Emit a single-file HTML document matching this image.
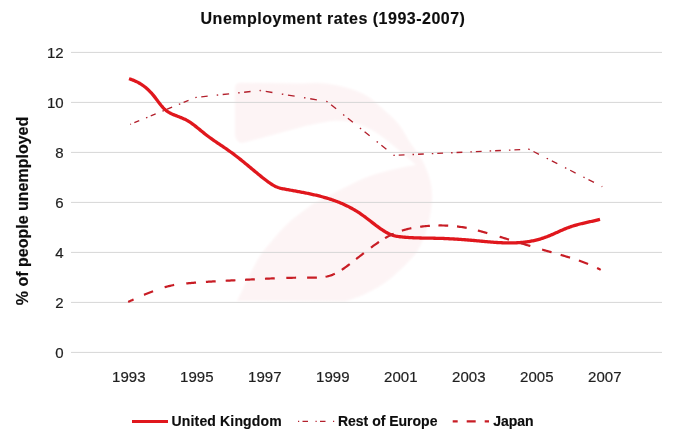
<!DOCTYPE html>
<html><head><meta charset="utf-8"><style>
html,body{margin:0;padding:0;background:#fff;width:681px;height:441px;overflow:hidden}
svg{display:block;will-change:transform}
text{font-family:"Liberation Sans", sans-serif;}
</style></head><body>
<svg width="681" height="441" viewBox="0 0 681 441">
<rect width="681" height="441" fill="#fff"/>
<defs><filter id="bl" x="-10%" y="-10%" width="120%" height="120%"><feGaussianBlur stdDeviation="0.9"/></filter></defs>
<path fill="#fdf4f5" filter="url(#bl)" d="M240,82.7 L300,83.5 C308.67,83.53 316.69,82.33 326.00,83.60 C337.23,85.13 352.33,88.57 362.50,93.60 C371.09,97.85 377.65,104.52 384.00,110.00 C389.55,114.79 394.49,119.03 398.80,124.40 C403.18,129.85 406.13,136.56 410.00,142.50 C413.86,148.43 418.67,153.78 422.00,160.00 C425.35,166.27 428.35,173.40 430.00,180.00 C431.52,186.05 432.12,191.40 432.00,198.00 C431.85,206.10 430.35,216.31 428.00,225.00 C425.67,233.64 422.60,242.59 418.00,250.00 C413.53,257.21 406.67,263.42 401.00,269.00 C396.00,273.92 391.64,278.00 386.00,282.00 C379.78,286.41 372.05,290.69 365.00,294.00 C358.38,297.11 351.67,299.00 345.00,301.50 L237,301 C244.50,286.23 252.85,267.18 259.50,256.70 C263.51,250.37 266.28,247.51 270.60,242.40 C275.99,236.03 282.68,228.10 289.70,221.70 C296.94,215.10 305.57,209.57 313.50,203.50 C323.00,198.67 332.50,193.62 342.00,189.00 C351.33,184.46 360.35,179.50 370.00,176.00 C379.68,172.49 391.53,169.92 400.00,168.00 C406.13,166.61 410.67,166.00 416.00,165.00 C410.27,160.00 403.65,154.11 398.80,150.00 C395.31,147.04 393.31,145.25 389.70,142.50 C384.75,138.73 377.85,133.17 371.60,129.80 C365.72,126.63 359.56,124.09 353.40,122.60 C347.46,121.16 341.94,120.59 335.30,120.80 C327.12,121.06 317.10,123.80 308.00,125.30 L244,142.6 C238.5,144 235,139 235,134 L235,88 C235,85 237,82.7 240,82.7 Z"/>
<g stroke="#d6d6d6" stroke-width="1">
<line x1="71" y1="52.4" x2="662" y2="52.4" />
<line x1="71" y1="102.4" x2="662" y2="102.4" />
<line x1="71" y1="152.4" x2="662" y2="152.4" />
<line x1="71" y1="202.4" x2="662" y2="202.4" />
<line x1="71" y1="252.4" x2="662" y2="252.4" />
<line x1="71" y1="302.4" x2="662" y2="302.4" />
<line x1="71" y1="352.4" x2="662" y2="352.4" />
</g>
<g font-size="15" fill="#1f1f1f" stroke="#1f1f1f" stroke-width="0.2" text-anchor="end">
<text x="63.6" y="58.2">12</text>
<text x="63.6" y="108.2">10</text>
<text x="63.6" y="158.2">8</text>
<text x="63.6" y="208.2">6</text>
<text x="63.6" y="258.2">4</text>
<text x="63.6" y="308.2">2</text>
<text x="63.6" y="358.2">0</text>
</g>
<g font-size="15" fill="#1f1f1f" stroke="#1f1f1f" stroke-width="0.2" text-anchor="middle">
<text x="128.8" y="382.2">1993</text>
<text x="196.8" y="382.2">1995</text>
<text x="264.8" y="382.2">1997</text>
<text x="332.8" y="382.2">1999</text>
<text x="400.8" y="382.2">2001</text>
<text x="468.8" y="382.2">2003</text>
<text x="536.8" y="382.2">2005</text>
<text x="604.8" y="382.2">2007</text>
</g>
<text x="333" y="23.8" font-size="16" font-weight="bold" fill="#0d0d0d" stroke="#0d0d0d" stroke-width="0.15" text-anchor="middle" letter-spacing="0.5">Unemployment rates (1993-2007)</text>
<text transform="translate(28.4,211) rotate(-90)" font-size="16" font-weight="bold" fill="#0d0d0d" stroke="#0d0d0d" stroke-width="0.15" text-anchor="middle">% of people unemployed</text>
<path d="M129.0,78.71 L130.0,79.03 L131.0,79.37 L132.0,79.72 L133.0,80.10 L134.0,80.51 L135.0,80.94 L136.0,81.40 L137.0,81.88 L138.0,82.40 L139.0,82.95 L140.0,83.53 L141.0,84.15 L142.0,84.80 L143.0,85.49 L144.0,86.23 L145.0,87.00 L146.0,87.82 L147.0,88.68 L148.0,89.59 L149.0,90.55 L150.0,91.56 L151.0,92.61 L152.0,93.72 L153.0,94.89 L154.0,96.11 L155.0,97.39 L156.0,98.70 L157.0,100.04 L158.0,101.38 L159.0,102.72 L160.0,104.02 L161.0,105.28 L162.0,106.47 L163.0,107.58 L164.0,108.60 L165.0,109.52 L166.0,110.36 L167.0,111.12 L168.0,111.81 L169.0,112.44 L170.0,113.01 L171.0,113.53 L172.0,114.01 L173.0,114.45 L174.0,114.87 L175.0,115.27 L176.0,115.66 L177.0,116.04 L178.0,116.42 L179.0,116.81 L180.0,117.20 L181.0,117.59 L182.0,118.00 L183.0,118.43 L184.0,118.88 L185.0,119.35 L186.0,119.85 L187.0,120.39 L188.0,120.95 L189.0,121.56 L190.0,122.20 L191.0,122.87 L192.0,123.57 L193.0,124.30 L194.0,125.05 L195.0,125.82 L196.0,126.61 L197.0,127.42 L198.0,128.23 L199.0,129.05 L200.0,129.88 L201.0,130.70 L202.0,131.52 L203.0,132.34 L204.0,133.15 L205.0,133.95 L206.0,134.73 L207.0,135.50 L208.0,136.25 L209.0,137.00 L210.0,137.73 L211.0,138.45 L212.0,139.16 L213.0,139.86 L214.0,140.56 L215.0,141.25 L216.0,141.93 L217.0,142.61 L218.0,143.29 L219.0,143.97 L220.0,144.64 L221.0,145.31 L222.0,145.98 L223.0,146.66 L224.0,147.33 L225.0,148.01 L226.0,148.70 L227.0,149.39 L228.0,150.08 L229.0,150.79 L230.0,151.50 L231.0,152.22 L232.0,152.95 L233.0,153.69 L234.0,154.44 L235.0,155.20 L236.0,155.97 L237.0,156.74 L238.0,157.52 L239.0,158.31 L240.0,159.11 L241.0,159.91 L242.0,160.71 L243.0,161.52 L244.0,162.34 L245.0,163.16 L246.0,163.98 L247.0,164.80 L248.0,165.63 L249.0,166.46 L250.0,167.29 L251.0,168.12 L252.0,168.95 L253.0,169.78 L254.0,170.61 L255.0,171.44 L256.0,172.26 L257.0,173.09 L258.0,173.91 L259.0,174.73 L260.0,175.54 L261.0,176.35 L262.0,177.16 L263.0,177.96 L264.0,178.75 L265.0,179.53 L266.0,180.30 L267.0,181.06 L268.0,181.80 L269.0,182.51 L270.0,183.20 L271.0,183.86 L272.0,184.49 L273.0,185.09 L274.0,185.65 L275.0,186.17 L276.0,186.65 L277.0,187.08 L278.0,187.46 L279.0,187.79 L280.0,188.09 L281.0,188.35 L282.0,188.58 L283.0,188.79 L284.0,188.99 L285.0,189.17 L286.0,189.35 L287.0,189.53 L288.0,189.71 L289.0,189.89 L290.0,190.07 L291.0,190.25 L292.0,190.43 L293.0,190.61 L294.0,190.79 L295.0,190.97 L296.0,191.15 L297.0,191.33 L298.0,191.52 L299.0,191.70 L300.0,191.89 L301.0,192.08 L302.0,192.27 L303.0,192.46 L304.0,192.66 L305.0,192.85 L306.0,193.05 L307.0,193.26 L308.0,193.46 L309.0,193.67 L310.0,193.88 L311.0,194.10 L312.0,194.32 L313.0,194.54 L314.0,194.77 L315.0,195.00 L316.0,195.23 L317.0,195.47 L318.0,195.72 L319.0,195.97 L320.0,196.22 L321.0,196.48 L322.0,196.75 L323.0,197.02 L324.0,197.30 L325.0,197.58 L326.0,197.87 L327.0,198.17 L328.0,198.47 L329.0,198.78 L330.0,199.10 L331.0,199.42 L332.0,199.76 L333.0,200.10 L334.0,200.45 L335.0,200.81 L336.0,201.18 L337.0,201.55 L338.0,201.94 L339.0,202.34 L340.0,202.74 L341.0,203.16 L342.0,203.59 L343.0,204.03 L344.0,204.48 L345.0,204.94 L346.0,205.41 L347.0,205.89 L348.0,206.39 L349.0,206.90 L350.0,207.42 L351.0,207.96 L352.0,208.50 L353.0,209.07 L354.0,209.64 L355.0,210.23 L356.0,210.83 L357.0,211.45 L358.0,212.09 L359.0,212.73 L360.0,213.40 L361.0,214.08 L362.0,214.77 L363.0,215.48 L364.0,216.21 L365.0,216.95 L366.0,217.70 L367.0,218.46 L368.0,219.23 L369.0,220.01 L370.0,220.79 L371.0,221.57 L372.0,222.35 L373.0,223.13 L374.0,223.91 L375.0,224.67 L376.0,225.44 L377.0,226.19 L378.0,226.93 L379.0,227.66 L380.0,228.37 L381.0,229.06 L382.0,229.73 L383.0,230.39 L384.0,231.02 L385.0,231.62 L386.0,232.20 L387.0,232.74 L388.0,233.26 L389.0,233.74 L390.0,234.19 L391.0,234.61 L392.0,234.98 L393.0,235.31 L394.0,235.60 L395.0,235.86 L396.0,236.09 L397.0,236.28 L398.0,236.46 L399.0,236.61 L400.0,236.74 L401.0,236.85 L402.0,236.96 L403.0,237.06 L404.0,237.15 L405.0,237.24 L406.0,237.32 L407.0,237.39 L408.0,237.46 L409.0,237.53 L410.0,237.59 L411.0,237.64 L412.0,237.69 L413.0,237.74 L414.0,237.79 L415.0,237.83 L416.0,237.86 L417.0,237.90 L418.0,237.93 L419.0,237.96 L420.0,237.99 L421.0,238.01 L422.0,238.03 L423.0,238.05 L424.0,238.07 L425.0,238.09 L426.0,238.11 L427.0,238.13 L428.0,238.14 L429.0,238.16 L430.0,238.17 L431.0,238.19 L432.0,238.20 L433.0,238.22 L434.0,238.24 L435.0,238.26 L436.0,238.28 L437.0,238.30 L438.0,238.32 L439.0,238.35 L440.0,238.37 L441.0,238.40 L442.0,238.44 L443.0,238.47 L444.0,238.51 L445.0,238.55 L446.0,238.59 L447.0,238.63 L448.0,238.68 L449.0,238.73 L450.0,238.78 L451.0,238.83 L452.0,238.88 L453.0,238.94 L454.0,239.00 L455.0,239.06 L456.0,239.12 L457.0,239.18 L458.0,239.25 L459.0,239.31 L460.0,239.38 L461.0,239.45 L462.0,239.53 L463.0,239.60 L464.0,239.67 L465.0,239.75 L466.0,239.83 L467.0,239.91 L468.0,239.99 L469.0,240.07 L470.0,240.16 L471.0,240.24 L472.0,240.33 L473.0,240.41 L474.0,240.50 L475.0,240.59 L476.0,240.68 L477.0,240.77 L478.0,240.86 L479.0,240.96 L480.0,241.05 L481.0,241.14 L482.0,241.24 L483.0,241.33 L484.0,241.42 L485.0,241.52 L486.0,241.61 L487.0,241.70 L488.0,241.79 L489.0,241.87 L490.0,241.96 L491.0,242.04 L492.0,242.12 L493.0,242.20 L494.0,242.28 L495.0,242.35 L496.0,242.42 L497.0,242.48 L498.0,242.55 L499.0,242.61 L500.0,242.66 L501.0,242.71 L502.0,242.76 L503.0,242.80 L504.0,242.84 L505.0,242.87 L506.0,242.90 L507.0,242.92 L508.0,242.93 L509.0,242.94 L510.0,242.94 L511.0,242.94 L512.0,242.93 L513.0,242.91 L514.0,242.89 L515.0,242.86 L516.0,242.82 L517.0,242.77 L518.0,242.72 L519.0,242.65 L520.0,242.58 L521.0,242.50 L522.0,242.41 L523.0,242.31 L524.0,242.21 L525.0,242.09 L526.0,241.96 L527.0,241.83 L528.0,241.68 L529.0,241.52 L530.0,241.36 L531.0,241.18 L532.0,240.99 L533.0,240.79 L534.0,240.57 L535.0,240.35 L536.0,240.11 L537.0,239.87 L538.0,239.61 L539.0,239.33 L540.0,239.05 L541.0,238.75 L542.0,238.43 L543.0,238.11 L544.0,237.77 L545.0,237.42 L546.0,237.05 L547.0,236.67 L548.0,236.27 L549.0,235.87 L550.0,235.46 L551.0,235.04 L552.0,234.61 L553.0,234.17 L554.0,233.73 L555.0,233.29 L556.0,232.84 L557.0,232.39 L558.0,231.95 L559.0,231.50 L560.0,231.05 L561.0,230.61 L562.0,230.17 L563.0,229.74 L564.0,229.31 L565.0,228.90 L566.0,228.49 L567.0,228.09 L568.0,227.70 L569.0,227.33 L570.0,226.96 L571.0,226.62 L572.0,226.28 L573.0,225.96 L574.0,225.66 L575.0,225.36 L576.0,225.07 L577.0,224.80 L578.0,224.53 L579.0,224.27 L580.0,224.02 L581.0,223.77 L582.0,223.53 L583.0,223.30 L584.0,223.07 L585.0,222.84 L586.0,222.61 L587.0,222.39 L588.0,222.17 L589.0,221.94 L590.0,221.72 L591.0,221.50 L592.0,221.27 L593.0,221.04 L594.0,220.80 L595.0,220.56 L596.0,220.32 L597.0,220.07 L598.0,219.81 L599.0,219.54 L600.0,219.27" fill="none" stroke="#e0171d" stroke-width="3.3" stroke-linejoin="round"/>
<path d="M130.3,124.4 L196,97.4" fill="none" stroke="#b3202c" stroke-width="1.35" stroke-dasharray="1.5 3.60 5.33 7.33" stroke-dashoffset="0.75"/>
<path d="M196,97.4 L260.3,90.5" fill="none" stroke="#b3202c" stroke-width="1.35" stroke-dasharray="1.5 4.53 6.47 9.06" stroke-dashoffset="0.75"/>
<path d="M260.3,90.5 L327,101.5" fill="none" stroke="#b3202c" stroke-width="1.35" stroke-dasharray="1.5 4.77 6.76 9.50" stroke-dashoffset="0.75"/>
<path d="M327,101.5 L394,155.4" fill="none" stroke="#b3202c" stroke-width="1.35" stroke-dasharray="1.5 4.52 6.45 9.03" stroke-dashoffset="0.75"/>
<path d="M394,155.4 L529,149.2" fill="none" stroke="#b3202c" stroke-width="1.35" stroke-dasharray="1.5 3.98 5.79 8.03" stroke-dashoffset="0.75"/>
<path d="M529,149.2 L602.3,186.7" fill="none" stroke="#b3202c" stroke-width="1.35" stroke-dasharray="1.5 4.29 6.18 8.62" stroke-dashoffset="0.75"/>
<path d="M128.20,301.91 L128.97,301.56 L129.74,301.22 L130.51,300.87 L131.29,300.52 L132.06,300.17 L132.83,299.83 L133.60,299.48 M144.01,294.88 L145.30,294.33 L146.59,293.78 L147.88,293.24 L149.18,292.71 L150.48,292.19 L151.78,291.67 L153.08,291.17 M164.63,287.23 L165.98,286.85 L167.33,286.48 L168.69,286.13 L170.05,285.81 L171.42,285.50 L172.79,285.22 L174.16,284.95 M186.27,283.43 L187.66,283.30 L189.06,283.18 L190.45,283.06 L191.85,282.94 L193.24,282.82 L194.64,282.71 L196.03,282.60 M205.91,281.89 L207.31,281.80 L208.70,281.71 L210.10,281.63 L211.50,281.54 L212.90,281.46 L214.29,281.37 L215.69,281.29 M225.66,280.75 L227.05,280.68 L228.45,280.61 L229.85,280.54 L231.25,280.47 L232.65,280.40 L234.05,280.33 L235.44,280.26 M245.06,279.78 L246.45,279.71 L247.85,279.64 L249.25,279.57 L250.65,279.49 L252.05,279.42 L253.45,279.35 L254.84,279.28 M264.96,278.77 L266.35,278.70 L267.75,278.64 L269.15,278.57 L270.55,278.51 L271.95,278.45 L273.35,278.39 L274.75,278.33 M286.30,277.92 L287.70,277.88 L289.10,277.85 L290.50,277.81 L291.90,277.78 L293.30,277.76 L294.70,277.73 L296.10,277.71 M307.10,277.68 L308.50,277.70 L309.90,277.71 L311.30,277.72 L312.70,277.72 L314.10,277.71 L315.50,277.69 L316.90,277.65 M325.53,276.74 L326.90,276.46 L328.27,276.13 L329.61,275.76 L330.95,275.34 L332.27,274.86 L333.57,274.34 L334.85,273.77 M341.82,269.79 L342.98,269.01 L344.13,268.22 L345.27,267.40 L346.40,266.58 L347.53,265.75 L348.65,264.91 L349.76,264.06 M356.15,259.10 L357.25,258.23 L358.35,257.37 L359.45,256.50 L360.55,255.64 L361.65,254.77 L362.75,253.91 L363.85,253.05 M370.95,247.62 L372.08,246.79 L373.21,245.97 L374.35,245.15 L375.49,244.34 L376.64,243.53 L377.79,242.74 L378.95,241.96 M385.03,238.14 L386.24,237.45 L387.46,236.77 L388.70,236.10 L389.94,235.47 L391.20,234.85 L392.47,234.25 L393.74,233.68 M401.86,230.63 L403.20,230.22 L404.55,229.83 L405.90,229.46 L407.25,229.11 L408.61,228.78 L409.98,228.47 L411.35,228.18 M420.12,226.75 L421.51,226.58 L422.90,226.42 L424.30,226.28 L425.69,226.15 L427.09,226.02 L428.48,225.91 L429.88,225.82 M438.40,225.48 L439.80,225.47 L441.20,225.47 L442.60,225.48 L444.00,225.51 L445.40,225.55 L446.80,225.61 L448.20,225.68 M457.01,226.44 L458.40,226.61 L459.79,226.80 L461.17,227.00 L462.56,227.21 L463.94,227.44 L465.31,227.69 L466.69,227.94 M477.88,230.53 L479.23,230.89 L480.59,231.25 L481.94,231.62 L483.28,231.99 L484.63,232.37 L485.98,232.76 L487.32,233.14 M499.66,236.76 L501.00,237.16 L502.34,237.56 L503.68,237.96 L505.02,238.37 L506.36,238.77 L507.70,239.18 L509.04,239.58 M520.96,243.20 L522.30,243.61 L523.64,244.01 L524.98,244.42 L526.32,244.83 L527.66,245.23 L529.00,245.64 L530.34,246.04 M542.14,249.56 L543.49,249.96 L544.83,250.35 L546.17,250.74 L547.52,251.13 L548.86,251.52 L550.21,251.91 L551.56,252.29 M560.65,254.87 L561.99,255.26 L563.34,255.64 L564.68,256.03 L566.03,256.43 L567.37,256.83 L568.71,257.23 L570.05,257.64 M578.91,260.52 L580.24,260.98 L581.55,261.46 L582.87,261.94 L584.18,262.43 L585.48,262.93 L586.79,263.45 L588.08,263.97 M597.10,268.03 L597.62,268.28 L598.13,268.54 L598.65,268.80 L599.16,269.06 L599.68,269.33 L600.19,269.60 L600.70,269.87" fill="none" stroke="#c81d25" stroke-width="2.2"/>
<line x1="132" y1="421.5" x2="168" y2="421.5" stroke="#e0171d" stroke-width="3.2"/>
<text x="171.6" y="426.2" font-size="14" font-weight="bold" fill="#0d0d0d" stroke="#0d0d0d" stroke-width="0.15" letter-spacing="0.15">United Kingdom</text>
<path d="M298,421.4 L335,421.4" stroke="#b3202c" stroke-width="1.3" stroke-dasharray="1.2 3.3 5.5 7.5"/>
<text x="337.9" y="426.2" font-size="14" font-weight="bold" fill="#0d0d0d" stroke="#0d0d0d" stroke-width="0.15">Rest of Europe</text>
<path d="M452.7,421.3 L489,421.3" stroke="#c81d25" stroke-width="2.2" stroke-dasharray="9 9" stroke-dashoffset="4"/>
<text x="493.2" y="426.2" font-size="14" font-weight="bold" fill="#0d0d0d" stroke="#0d0d0d" stroke-width="0.15">Japan</text>
</svg>
</body></html>
